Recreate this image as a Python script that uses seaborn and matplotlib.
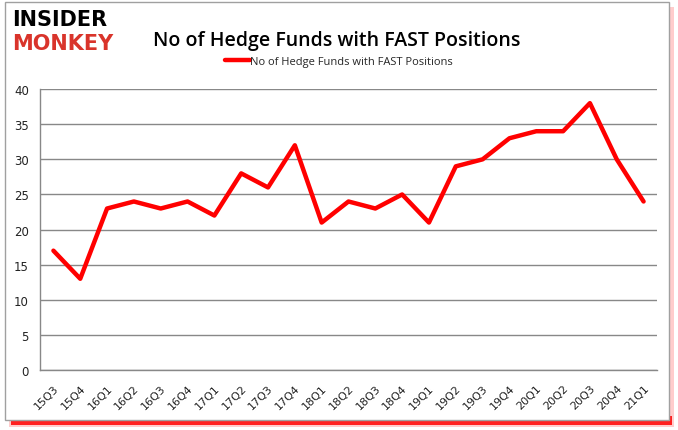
import numpy as np
import pandas as pd
import matplotlib
matplotlib.use("Agg")
import matplotlib.pyplot as plt
import seaborn as sns
from matplotlib.patches import Rectangle

quarters = ["15Q3", "15Q4", "16Q1", "16Q2", "16Q3", "16Q4", "17Q1", "17Q2",
            "17Q3", "17Q4", "18Q1", "18Q2", "18Q3", "18Q4", "19Q1", "19Q2",
            "19Q3", "19Q4", "20Q1", "20Q2", "20Q3", "20Q4", "21Q1"]
funds = [17, 13, 23, 24, 23, 24, 22, 28, 26, 32, 21, 24, 23, 25, 21, 29,
         30, 33, 34, 34, 38, 30, 24]
series_name = "No of Hedge Funds with FAST Positions"

df = pd.DataFrame({"pos": np.arange(len(quarters)), "funds": funds})

sns.set_style("white")
plt.rcParams["font.family"] = ["DejaVu Sans"]

fig = plt.figure(figsize=(6.78, 4.31), dpi=100)

# border with shadow (drawn behind the axes)
fig.patches.append(Rectangle((0.014, 0.006), 0.980, 0.975, transform=fig.transFigure,
                             facecolor="#ffcccc", edgecolor="none", zorder=0))
fig.patches.append(Rectangle((0.016, 0.012), 0.975, 0.02, transform=fig.transFigure,
                             facecolor="#ff2020", edgecolor="none", zorder=0.1))
fig.patches.append(Rectangle((0.007, 0.024), 0.980, 0.970, transform=fig.transFigure,
                             facecolor="white", edgecolor="#a0a0a0", linewidth=1,
                             zorder=0.2))

ax = fig.add_axes([0.059, 0.139, 0.910, 0.652])
ax.set_zorder(2)
ax.patch.set_alpha(0)

sns.lineplot(data=df, x="pos", y="funds", color="#ff0000", linewidth=3.2,
             ax=ax, label=series_name, legend=False)

ax.set_ylim(0, 40)
ax.set_yticks(range(0, 41, 5))
ax.set_xlim(-0.5, len(quarters) - 0.5)
ax.set_xticks(np.arange(len(quarters)))
ax.set_xticklabels(quarters, rotation=45, fontsize=8, ha="right",
                   rotation_mode="anchor")
ax.set_xticks(np.arange(len(quarters) + 1) - 0.5, minor=True)
ax.tick_params(axis="x", which="major", length=0, pad=9, labelcolor="#222222")
ax.tick_params(axis="x", which="minor", length=4, color="#888888", width=1)
ax.tick_params(axis="y", labelsize=8.5, length=0, pad=8, labelcolor="#222222")
ax.set_xlabel("")
ax.set_ylabel("")
ax.grid(axis="y", color="#888888", linewidth=1)
ax.set_axisbelow(True)
for side in ["top", "right"]:
    ax.spines[side].set_visible(False)
for side in ["left", "bottom"]:
    ax.spines[side].set_color("#888888")
    ax.spines[side].set_linewidth(1)

# title, legend, logo
fig.text(0.497, 0.905, series_name, ha="center", va="center", fontsize=14,
         fontweight="semibold", family="Open Sans", color="black")
handles, labels = ax.get_legend_handles_labels()
fig.legend(handles, labels, loc="center", bbox_to_anchor=(0.50, 0.856),
           frameon=False, handlelength=2.2, handletextpad=0.0,
           prop={"family": "Open Sans", "size": 8})
fig.text(0.018, 0.953, "INSIDER", ha="left", va="center", fontsize=15,
         fontweight="heavy", color="black", family="DejaVu Sans")
fig.text(0.018, 0.898, "MONKEY", ha="left", va="center", fontsize=15,
         fontweight="heavy", color="#d9342b", family="DejaVu Sans")

fig.savefig("out.png", dpi=100)
